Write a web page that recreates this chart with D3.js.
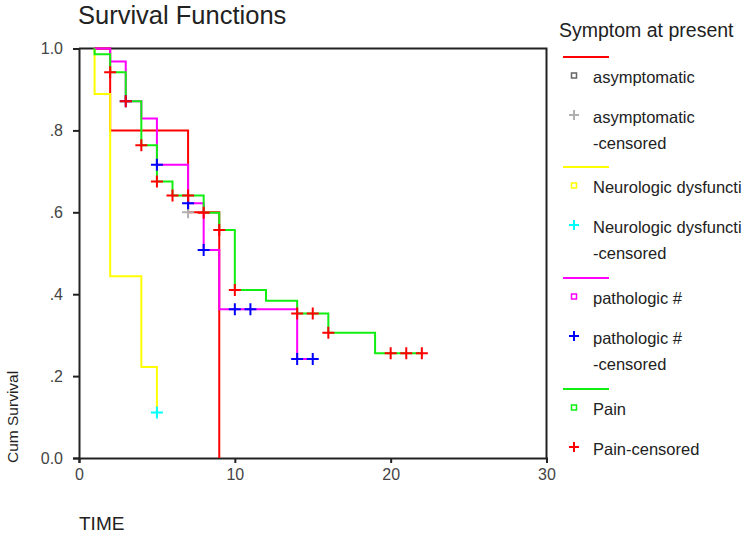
<!DOCTYPE html>
<html>
<head>
<meta charset="utf-8">
<script src="https://cdn.jsdelivr.net/npm/d3@7"></script>
<style>
  body { margin: 0; background: #fff; }
  text { font-family: "Liberation Sans", Arial, sans-serif; fill: #222; }
</style>
</head>
<body>
<svg id="chart" width="749" height="536"></svg>
<script>
// Kaplan-Meier curves
var asymTimes = [1, 2, 7, 9];
var asymSurv = [1.0, 0.8, 0.6, 0.0];
var asymEnd = 9;
var asymCensTimes = [7];
var asymCensSurv = [0.6];

var neuroTimes = [1, 1, 2, 4, 5];
var neuroSurv = [1.0, 0.889, 0.444, 0.222, 0.111];
var neuroEnd = 5;
var neuroCensTimes = [5];
var neuroCensSurv = [0.111];

var pathTimes = [1, 2, 3, 4, 5, 7, 8, 9, 14];
var pathSurv = [1.0, 0.968, 0.871, 0.829, 0.716, 0.622, 0.508, 0.363, 0.242];
var pathEnd = 15;
var pathCensTimes = [3, 5, 7, 8, 10, 11, 14, 15];
var pathCensSurv = [0.871, 0.716, 0.622, 0.508, 0.363, 0.363, 0.242, 0.242];

var painTimes = [1, 1, 2, 3, 4, 5, 6, 8, 9, 10, 12, 14, 16, 19];
var painSurv = [1.0, 0.986, 0.942, 0.871, 0.764, 0.675, 0.641, 0.599, 0.557, 0.41, 0.384, 0.353, 0.306, 0.256];
var painEnd = 22;
var painCensTimes = [2, 3, 4, 5, 6, 7, 8, 9, 10, 14, 15, 16, 20, 21, 22];
var painCensSurv = [0.942, 0.871, 0.764, 0.675, 0.641, 0.641, 0.599, 0.557, 0.41, 0.353, 0.353, 0.306, 0.256, 0.256, 0.256];

var groupNames = ['asymptomatic', 'Neurologic dysfuncti', 'pathologic #', 'Pain'];
var lineColors = ['#ff0000', '#ffff00', '#ff00ff', '#11ee11'];
var squareColors = ['#666666', '#ffff00', '#ff00ff', '#11ee11'];
var censColors = ['#b0b0b0', '#00ffff', '#0000ff', '#ff0000'];

var xTicks = [0, 10, 20, 30];
var yTicks = [0, 0.2, 0.4, 0.6, 0.8, 1.0];
var yTickLabels = ['0.0', '.2', '.4', '.6', '.8', '1.0'];

var svg = d3.select('#chart');
var pLeft = 79, pRight = 546.5, pTop = 48.5, pBottom = 458;

var x = d3.scaleLinear().domain([0, 30]).range([pLeft, pRight]);
var y = d3.scaleLinear().domain([0, 1]).range([pBottom, pTop]);

// title
svg.append('text')
  .attr('x', 78).attr('y', 24)
  .style('font-size', '25.5px')
  .text('Survival Functions');

// axes
var yAxis = d3.axisLeft(y)
  .tickValues(yTicks)
  .tickFormat(function (d, i) { return yTickLabels[i]; })
  .tickSizeOuter(0)
  .tickSize(6)
  .tickPadding(10);
var gy = svg.append('g').attr('transform', 'translate(' + pLeft + ',0)').call(yAxis);

var xAxis = d3.axisBottom(x)
  .tickValues(xTicks)
  .tickFormat(d3.format('d'))
  .tickSizeOuter(0)
  .tickSize(5)
  .tickPadding(6);
var gx = svg.append('g').attr('transform', 'translate(0,' + pBottom + ')').call(xAxis);

[gx, gy].forEach(function (g) {
  g.select('.domain').attr('stroke', '#222').attr('stroke-width', 2);
  g.selectAll('.tick line').attr('stroke', '#222').attr('stroke-width', 2);
  g.selectAll('.tick text').style('font-size', '16px').style('fill', '#444')
    .style('font-family', '"Liberation Sans", Arial, sans-serif');
});

// frame top and right
svg.append('path')
  .attr('d', 'M' + pLeft + ',' + pTop + 'H' + pRight + 'V' + pBottom)
  .attr('fill', 'none')
  .attr('stroke', '#222')
  .attr('stroke-width', 2);

// axis titles
svg.append('text')
  .attr('transform', 'translate(18,463) rotate(-90)')
  .style('font-size', '15.5px')
  .text('Cum Survival');

svg.append('text')
  .attr('x', 79).attr('y', 530)
  .style('font-size', '19px')
  .text('TIME');

// curves
var series = [
  { times: asymTimes, surv: asymSurv, end: asymEnd, ct: asymCensTimes, cs: asymCensSurv },
  { times: neuroTimes, surv: neuroSurv, end: neuroEnd, ct: neuroCensTimes, cs: neuroCensSurv },
  { times: pathTimes, surv: pathSurv, end: pathEnd, ct: pathCensTimes, cs: pathCensSurv },
  { times: painTimes, surv: painSurv, end: painEnd, ct: painCensTimes, cs: painCensSurv }
];

var stepLine = d3.line()
  .x(function (d) { return x(d[0]); })
  .y(function (d) { return y(d[1]); })
  .curve(d3.curveStepAfter);

series.forEach(function (s, i) {
  var pts = s.times.map(function (t, j) { return [t, s.surv[j]]; });
  pts.push([s.end, s.surv[s.surv.length - 1]]);
  svg.append('path')
    .datum(pts)
    .attr('d', stepLine)
    .attr('fill', 'none')
    .attr('stroke', lineColors[i])
    .attr('stroke-width', 2);
});

function cross(g, cx, cy, r, color) {
  g.append('path')
    .attr('d', 'M' + (cx - r) + ',' + cy + 'H' + (cx + r) + 'M' + cx + ',' + (cy - r) + 'V' + (cy + r))
    .attr('stroke', color)
    .attr('stroke-width', 2)
    .attr('fill', 'none');
}

series.forEach(function (s, i) {
  var g = svg.append('g');
  s.ct.forEach(function (t, j) {
    cross(g, x(t), y(s.cs[j]), 6, censColors[i]);
  });
});

// legend
var lg = svg.append('g');
lg.append('text').attr('x', 559).attr('y', 37).style('font-size', '19.5px').text('Symptom at present');

var groupY = [57, 167, 278, 389];
groupNames.forEach(function (name, i) {
  var gy0 = groupY[i];
  lg.append('line')
    .attr('x1', 563).attr('x2', 609)
    .attr('y1', gy0).attr('y2', gy0)
    .attr('stroke', lineColors[i]).attr('stroke-width', 2);

  var r1 = gy0 + 19;
  lg.append('rect')
    .attr('x', 571.5).attr('y', r1 - 3)
    .attr('width', 5).attr('height', 5)
    .attr('fill', 'none')
    .attr('stroke', squareColors[i]).attr('stroke-width', 1.5);
  lg.append('text').attr('x', 593).attr('y', r1 + 7).style('font-size', '16.5px').text(name);

  var r2 = gy0 + 58;
  cross(lg, 574, r2, 5, censColors[i]);
  if (i == 3) {
    lg.append('text').attr('x', 593).attr('y', r2 + 8).style('font-size', '16.5px').text(name + '-censored');
  } else {
    lg.append('text').attr('x', 593).attr('y', r2 + 8).style('font-size', '16.5px').text(name);
    lg.append('text').attr('x', 593).attr('y', r2 + 34).style('font-size', '16.5px').text('-censored');
  }
});
</script>
</body>
</html>
